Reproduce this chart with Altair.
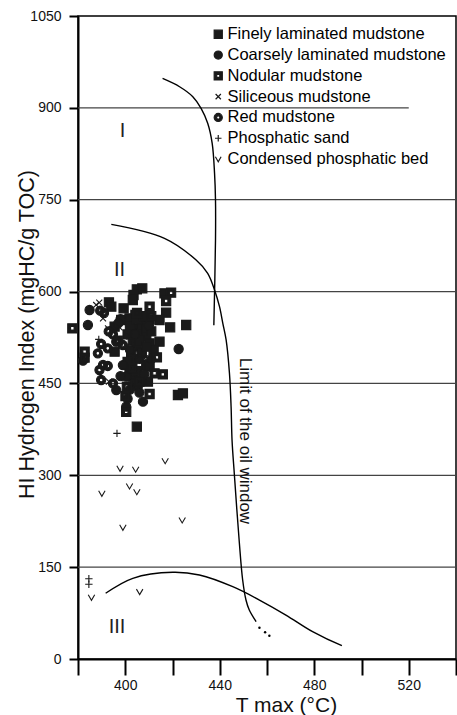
import altair as alt
import pandas as pd

FONT = "Liberation Sans"
INK = "#1a1a1a"

# ---------------- data ----------------
types = ["Finely laminated mudstone", "Coarsely laminated mudstone", "Nodular mudstone",
         "Siliceous mudstone", "Red mudstone", "Phosphatic sand", "Condensed phosphatic bed"]

fine_T = [404.9, 407.2, 403.5, 416.6, 393.1, 394.1, 399.3, 403.2, 417.3, 419.0, 425.8, 414.5, 410.3, 406.8, 404.3,
          401.8, 398.3, 395.5, 403.9, 406.0, 408.9, 403.2, 410.3, 414.5, 395.5, 402.5, 408.9, 410.3, 401.8, 403.2,
          409.6, 422.3, 424.4, 404.9, 407.0, 409.0, 405.0, 407.0, 403.0, 405.0, 401.0, 411.0, 412.0,
          402.0, 405.0, 408.0, 406.0, 409.0, 401.0, 407.0, 404.0]
fine_HI = [603.6, 605.3, 594.4, 597.1, 582.4, 575.3, 572.6, 586.2, 565.5, 541.6, 545.4, 553.6, 554.6, 556.3, 561.7,
           556.3, 553.6, 542.7, 540.0, 531.8, 526.3, 520.9, 515.4, 518.2, 501.8, 499.1, 480.1, 477.3, 474.6, 461.0,
           452.8, 431.1, 433.8, 379.4, 545, 540, 510, 500, 490, 470, 485, 535, 505,
           545, 555, 560, 520, 510, 530, 455, 450]

coarse_T = [384.9, 384.2, 382.1, 422.6, 400.4, 396.2, 400.4, 407.5, 405.3, 398.0, 404.0, 406.0, 402.0, 408.0,
            399.0, 401.0, 397.0, 410.0, 411.0, 398.0, 402.0, 406.0]
coarse_HI = [569.9, 545.4, 487.1, 506.2, 461.0, 439.2, 412.0, 420.2, 444.7, 555, 530, 490, 505, 465, 480, 425,
             548, 545, 490, 462, 440, 435]

nod_T = [377.6, 419.4, 417.3, 410.3, 413.4, 382.8, 382.8, 415.9, 412.4, 410.3, 400.7, 400.1, 400.4, 406.0,
         397.0, 405.0, 411.0, 403.0]
nod_HI = [540, 598.2, 584.6, 575.3, 492.6, 501.8, 492, 464.8, 466.5, 432.7, 444.7, 429.4, 403.8, 452.8, 520,
          565, 560, 475]

sil_T = [387.7, 390.6, 392.7, 397.6, 401.8, 406.1, 408.2, 393.1, 389.0]
sil_HI = [578.1, 556.3, 540.0, 541.6, 526.3, 496.4, 491.0, 452.8, 582]

red_T = [389.4, 394.8, 389.8, 392.6, 396.2, 399.0, 388.4, 390.6, 392.6, 389.1, 389.8, 394.8, 391.0, 393.0]
red_HI = [568.8, 530.1, 514.4, 507.3, 518.2, 512.7, 499.1, 480.1, 478.5, 471.9, 455.6, 450.1, 565, 535]

phos_T = [388.8, 396.5, 384.6, 384.6]
phos_HI = [522, 368.5, 131, 122]

cond_T = [397.8, 404.4, 416.9, 390.1, 401.8, 404.9, 399.0, 424.1, 385.7, 406.1]
cond_HI = [311.4, 309.8, 323.8, 270.6, 282.5, 273.2, 215, 227, 100.7, 110]

# boundary curves
c1_T = [415.8, 423.0, 428.6, 432.1, 434.9, 436.8, 437.8, 438.2, 438.2, 437.5]
c1_HI = [948, 934.5, 918.2, 899.2, 874.8, 842, 793, 749.5, 684, 545]
c2_T = [394.1, 416.6, 430.0, 434.9, 437.8, 439.9, 441.3, 442.7, 444.1, 444.8, 445.2, 446.2, 448.3, 449.7,
        451.1, 452.5, 455.4]
c2_HI = [709.8, 687, 651.5, 629.8, 602.6, 575.3, 548.2, 521, 467, 412, 357.6, 300.5, 189.4, 129, 96.3, 80, 61]
c3_T = [391.7, 403.2, 420.1, 431.4, 445.5, 456.8, 468.0, 479.3, 491.7]
c3_HI = [107.3, 131.8, 141.6, 137.2, 118.1, 96.3, 71.8, 44.6, 21.7]
dots_T = [456.8, 459.2, 461.0]
dots_HI = [51, 43.6, 38]

grid_HI = [150, 300, 450, 600, 750, 900]
grid_T_start = [380, 380, 380, 380, 380, 380]
grid_T_end = [540, 540, 540, 540, 540, 520]

region_labels = ["I", "II", "III"]
region_T = [398.9, 397.6, 396.5]
region_HI = [862, 635, 52.7]

oil_label = ["Limit of the oil window"]
oil_T = [450.8]
oil_HI = [356]

x_ticks = [380, 400, 420, 440, 460, 480, 500, 520, 540]
x_labels = [400, 440, 480, 520]
y_ticks = [0, 150, 300, 450, 600, 750, 900, 1050]

# ---------------- tables ----------------
series = [(fine_T, fine_HI), (coarse_T, coarse_HI), (nod_T, nod_HI), (sil_T, sil_HI),
          (red_T, red_HI), (phos_T, phos_HI), (cond_T, cond_HI)]
rows = []
k = 0
for name, (ts, hs) in zip(types, series):
    for t, h in zip(ts, hs):
        rows.append({"T": t, "HI": h, "type": name, "ord": k})
        k += 1
pts = pd.DataFrame(rows)

crows = []
for cid, (ts, hs) in enumerate([(c1_T, c1_HI), (c2_T, c2_HI), (c3_T, c3_HI)]):
    for i, (t, h) in enumerate(zip(ts, hs)):
        crows.append({"T": t, "HI": h, "curve": cid, "i": i})
curves = pd.DataFrame(crows)
dots = pd.DataFrame({"T": dots_T, "HI": dots_HI})
grid = pd.DataFrame({"T": grid_T_start, "T2": grid_T_end, "HI": grid_HI})
regions = pd.DataFrame({"T": region_T, "HI": region_HI, "label": region_labels})
oil = pd.DataFrame({"T": oil_T, "HI": oil_HI, "label": oil_label})

# ---------------- encodings ----------------
x_scale = alt.Scale(domain=[380, 540], nice=False, zero=False)
y_scale = alt.Scale(domain=[0, 1050], nice=False, zero=False)
label_list = ",".join(str(v) for v in x_labels)
x_axis = alt.Axis(values=x_ticks, labelExpr=f"indexof([{label_list}], datum.value) >= 0 ? datum.label : ''",
                  format="d", title="T max (°C)", grid=False, tickSize=16, tickWidth=2, domainWidth=2,
                  labelFontSize=14, labelPadding=3, titleFontSize=21, titleFontWeight="normal",
                  titleX=208, titleY=52, titleBaseline="alphabetic", titleAlign="center")
y_axis = alt.Axis(values=y_ticks, format="d", title="HI Hydrogen Index (mgHC/g TOC)", grid=False, tickSize=9,
                  tickWidth=2, domainWidth=2, labelFontSize=14, labelPadding=8, titleFontSize=21.5,
                  titleFontWeight="normal", titleX=-45, titleY=318, titleBaseline="alphabetic",
                  titleAlign="center", titleAngle=270)


def X(f="T"):
    return alt.X(f"{f}:Q", scale=x_scale, axis=x_axis)


def Y(f="HI"):
    return alt.Y(f"{f}:Q", scale=y_scale, axis=y_axis)


shapes = [
    "M-1,-1H1V1H-1Z",
    "circle",
    "M-1,-1H1V1H-1Z M-0.38,-0.38V0.38H0.38V-0.38Z",
    "M-0.65,-0.65L0.65,0.65M-0.65,0.65L0.65,-0.65",
    "M-1,0A1,1,0,0,1,1,0A1,1,0,0,1,-1,0Z M-0.4,0A0.4,0.4,0,0,0,0.4,0A0.4,0.4,0,0,0,-0.4,0Z",
    "M0,-0.8L0,0.8M-0.8,0L0.8,0",
    "M-0.7,-0.55L0,0.65L0.7,-0.55",
]
fills = [INK, INK, INK, "transparent", INK, "transparent", "transparent"]
strokes = [INK] * len(types)

legend = alt.Legend(title=None, orient="none", legendX=132, legendY=10, labelFont=FONT, labelFontSize=16.5,
                    labelColor="black", symbolSize=66, rowPadding=3.8, labelOffset=1, symbolStrokeWidth=1.2,
                    symbolStrokeColor=INK, symbolOpacity=1, labelLimit=400, padding=0)

grid_layer = alt.Chart(grid).mark_rule(color="#444", strokeWidth=1.2).encode(
    x=X(), x2="T2:Q", y=Y())

curve_layer = alt.Chart(curves).mark_line(color="black", strokeWidth=1.4, interpolate="catmull-rom").encode(
    x=X(), y=Y(), detail="curve:N", order="i:Q")

dot_layer = alt.Chart(dots).mark_point(filled=True, color="black", size=6, opacity=1).encode(x=X(), y=Y())

point_layer = alt.Chart(pts).mark_point(strokeWidth=1.1, size=85, opacity=1).encode(
    x=X(), y=Y(),
    shape=alt.Shape("type:N", scale=alt.Scale(domain=types, range=shapes), legend=legend),
    fill=alt.Fill("type:N", scale=alt.Scale(domain=types, range=fills), legend=legend),
    stroke=alt.Stroke("type:N", scale=alt.Scale(domain=types, range=strokes), legend=legend),
    order=alt.Order("ord:Q"),
)

region_layer = alt.Chart(regions).mark_text(font=FONT, fontSize=20, color="#222", align="center",
                                             baseline="middle").encode(x=X(), y=Y(), text="label:N")

oil_layer = alt.Chart(oil).mark_text(font=FONT, fontSize=17, color="#111", align="center", baseline="middle",
                                     angle=90).encode(x=X(), y=Y(), text="label:N")

chart = alt.layer(grid_layer, curve_layer, dot_layer, point_layer, region_layer, oil_layer).properties(
    width=378, height=643,
    padding={"left": 78, "top": 16, "right": 1, "bottom": 56},
    autosize=alt.AutoSizeParams(type="none"),
    background="white",
).configure_view(stroke="black", strokeWidth=1.5).configure_axis(
    labelFont=FONT, titleFont=FONT, domainColor="black", tickColor="black", labelColor="#111", titleColor="#111"
)

chart.save("out.html", embed_options={"renderer": "svg", "actions": False})
